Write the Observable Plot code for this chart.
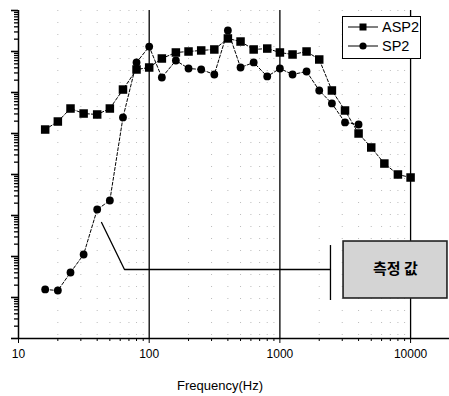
<!DOCTYPE html>
<html>
<head>
<meta charset="utf-8">
<script src="https://cdn.jsdelivr.net/npm/d3@7"></script>
<script src="https://cdn.jsdelivr.net/npm/@observablehq/plot@0.6"></script>
<style>
  html, body { margin: 0; padding: 0; background: #fff; }
  #wrap { position: relative; width: 449px; height: 396px; font-family: "Liberation Sans", Arial, sans-serif; }
  #legend { position: absolute; left: 342px; top: 16px; width: 79px; height: 43px; border: 1.2px solid #000; background: #fff; box-sizing: border-box; }
  .row { display: flex; align-items: center; height: 19px; margin-left: 4px; font-size: 14.5px; color: #000; }
  .row svg { margin-right: 2px; }
</style>
</head>
<body>
<div id="wrap">
  <div id="chart"></div>
  <div id="legend"></div>
</div>
<script>
// 1/3-octave band centre frequencies (Hz)
const freqs = [16, 20, 25, 31.5, 40, 50, 63, 80, 100, 125, 160, 200, 250, 315, 400, 500, 630, 800, 1000, 1250, 1600, 2000, 2500, 3150, 4000, 5000, 6300, 8000, 10000];
// ASP2 series (log-scale values)
const asp2 = [1.25e5, 1.96e5, 4.07e5, 3.07e5, 2.91e5, 4.07e5, 1.18e6, 3.64e6, 4.07e6, 6.75e6, 9.46e6, 1.0e7, 1.06e7, 1.12e7, 2.08e7, 1.75e7, 1.12e7, 1.18e7, 9.46e6, 8.45e6, 1.0e7, 6.38e6, 1.12e6, 3.64e5, 1.0e5, 4.56e4, 1.85e4, 1.0e4, 8.45e3];
// SP2 series (first 25 bands, 16 Hz .. 4000 Hz)
const sp2 = [15.7, 14.8, 40.7, 112, 1400, 2320, 2.46e5, 5.4e6, 1.32e7, 2.32e6, 6.03e6, 3.85e6, 3.64e6, 2.75e6, 3.25e7, 4.07e6, 5.4e6, 2.46e6, 3.85e6, 2.75e6, 3.25e6, 1.12e6, 5.4e5, 1.86e5, 1.66e5];

const seriesNames = ["ASP2", "SP2"];
const xMajorTicks = [10, 100, 1000, 10000];
const xTickLabels = ["10", "100", "1000", "10000"];
const xGridLines = [100, 1000, 10000];
const yMajorTicks = [1, 10, 100, 1e3, 1e4, 1e5, 1e6, 1e7, 1e8];
const xLabel = "Frequency(Hz)";

// annotation (in data coordinates)
const leaderF = [43.2, 64.7, 2438];
const leaderV = [675, 48.2, 48.2];
const barF = 2438, barV = [8.45, 185];
const boxF = [3070, 19150], boxV = [9.46, 232];
const boxText = "측정 값";
const boxTextF = 7650, boxTextV = 48.2;

const aspData = freqs.map((f, i) => ({f, v: asp2[i]}));
const spData = sp2.map((v, i) => ({f: freqs[i], v}));
const leader = leaderF.map((f, i) => ({f, v: leaderV[i]}));

const xMinor = [];
for (let d = 10; d < 20000; d *= 10) for (let k = 2; k <= 9; k++) if (d * k < 19850) xMinor.push(d * k);
const yMinor = [];
for (let i = 0; i < yMajorTicks.length - 1; i++) for (let k = 2; k <= 9; k++) yMinor.push(yMajorTicks[i] * k);

const plot = Plot.plot({
  width: 449,
  height: 396,
  marginLeft: 18,
  marginRight: 0,
  marginTop: 10,
  marginBottom: 58,
  style: {fontFamily: "Liberation Sans, Arial, sans-serif", fontSize: "12px", color: "#000", background: "#fff"},
  x: {type: "log", domain: [10, 19850]},
  y: {type: "log", domain: [1, 1e8]},
  marks: [
    // faint dotted minor grid
    Plot.ruleX(xMinor, {stroke: "#bbb", strokeDasharray: "1,11", strokeWidth: 1}),
    // solid decade grid lines
    Plot.ruleX(xGridLines, {stroke: "#000", strokeWidth: 1.3}),
    // axes
    Plot.axisX({ticks: xMajorTicks, tickSize: 5, tickPadding: 6, tickFormat: (d) => xTickLabels[xMajorTicks.indexOf(d)], label: null, fontSize: 12}),
    Plot.axisX({ticks: xMinor, tickSize: 3, tickFormat: () => "", label: null}),
    Plot.axisY({ticks: yMajorTicks, tickSize: 7, tickFormat: () => "", label: null, strokeWidth: 1.6}),
    Plot.axisY({ticks: yMinor, tickSize: 4, tickFormat: () => "", label: null, strokeWidth: 1.3}),
    Plot.ruleX([10], {stroke: "#000", strokeWidth: 1.5}),
    Plot.ruleY([1], {stroke: "#000", strokeWidth: 1.5}),
    Plot.text([xLabel], {frameAnchor: "bottom", dx: -14, dy: 51, fontSize: 13, fill: "#000"}),
    // annotation
    Plot.line(leader, {x: "f", y: "v", stroke: "#000", strokeWidth: 1.3}),
    Plot.ruleX([barF], {y1: barV[0], y2: barV[1], stroke: "#000", strokeWidth: 1.3}),
    Plot.rect([0], {x1: boxF[0], x2: boxF[1], y1: boxV[0], y2: boxV[1], fill: "#d4d4d4", stroke: "#222", strokeWidth: 1.6}),
    Plot.text([boxText], {x: boxTextF, y: boxTextV, fontFamily: "Noto Sans CJK KR", fontWeight: "bold", fontSize: 15, fill: "#000"}),
    // series
    Plot.line(aspData, {x: "f", y: "v", stroke: "#000", strokeWidth: 1, strokeDasharray: "3,2"}),
    Plot.line(spData, {x: "f", y: "v", stroke: "#000", strokeWidth: 1, strokeDasharray: "3,2"}),
    Plot.dot(spData, {x: "f", y: "v", symbol: "circle", r: 3.9, fill: "#000"}),
    Plot.dot(aspData, {x: "f", y: "v", symbol: "square", r: 4.8, fill: "#000"})
  ]
});
document.getElementById("chart").appendChild(plot);

// legend
const legend = document.getElementById("legend");
const symbols = ["square", "circle"];
seriesNames.forEach((name, i) => {
  const row = document.createElement("div");
  row.className = "row";
  const marker = symbols[i] === "square"
    ? '<rect x="12.5" y="4.5" width="7" height="7" fill="#000"/>'
    : '<circle cx="16" cy="8" r="3.6" fill="#000"/>';
  row.innerHTML = '<svg width="33" height="16"><line x1="1" x2="31" y1="8" y2="8" stroke="#000" stroke-width="1"/>' + marker + '</svg><span>' + name + '</span>';
  legend.appendChild(row);
});
</script>
</body>
</html>
